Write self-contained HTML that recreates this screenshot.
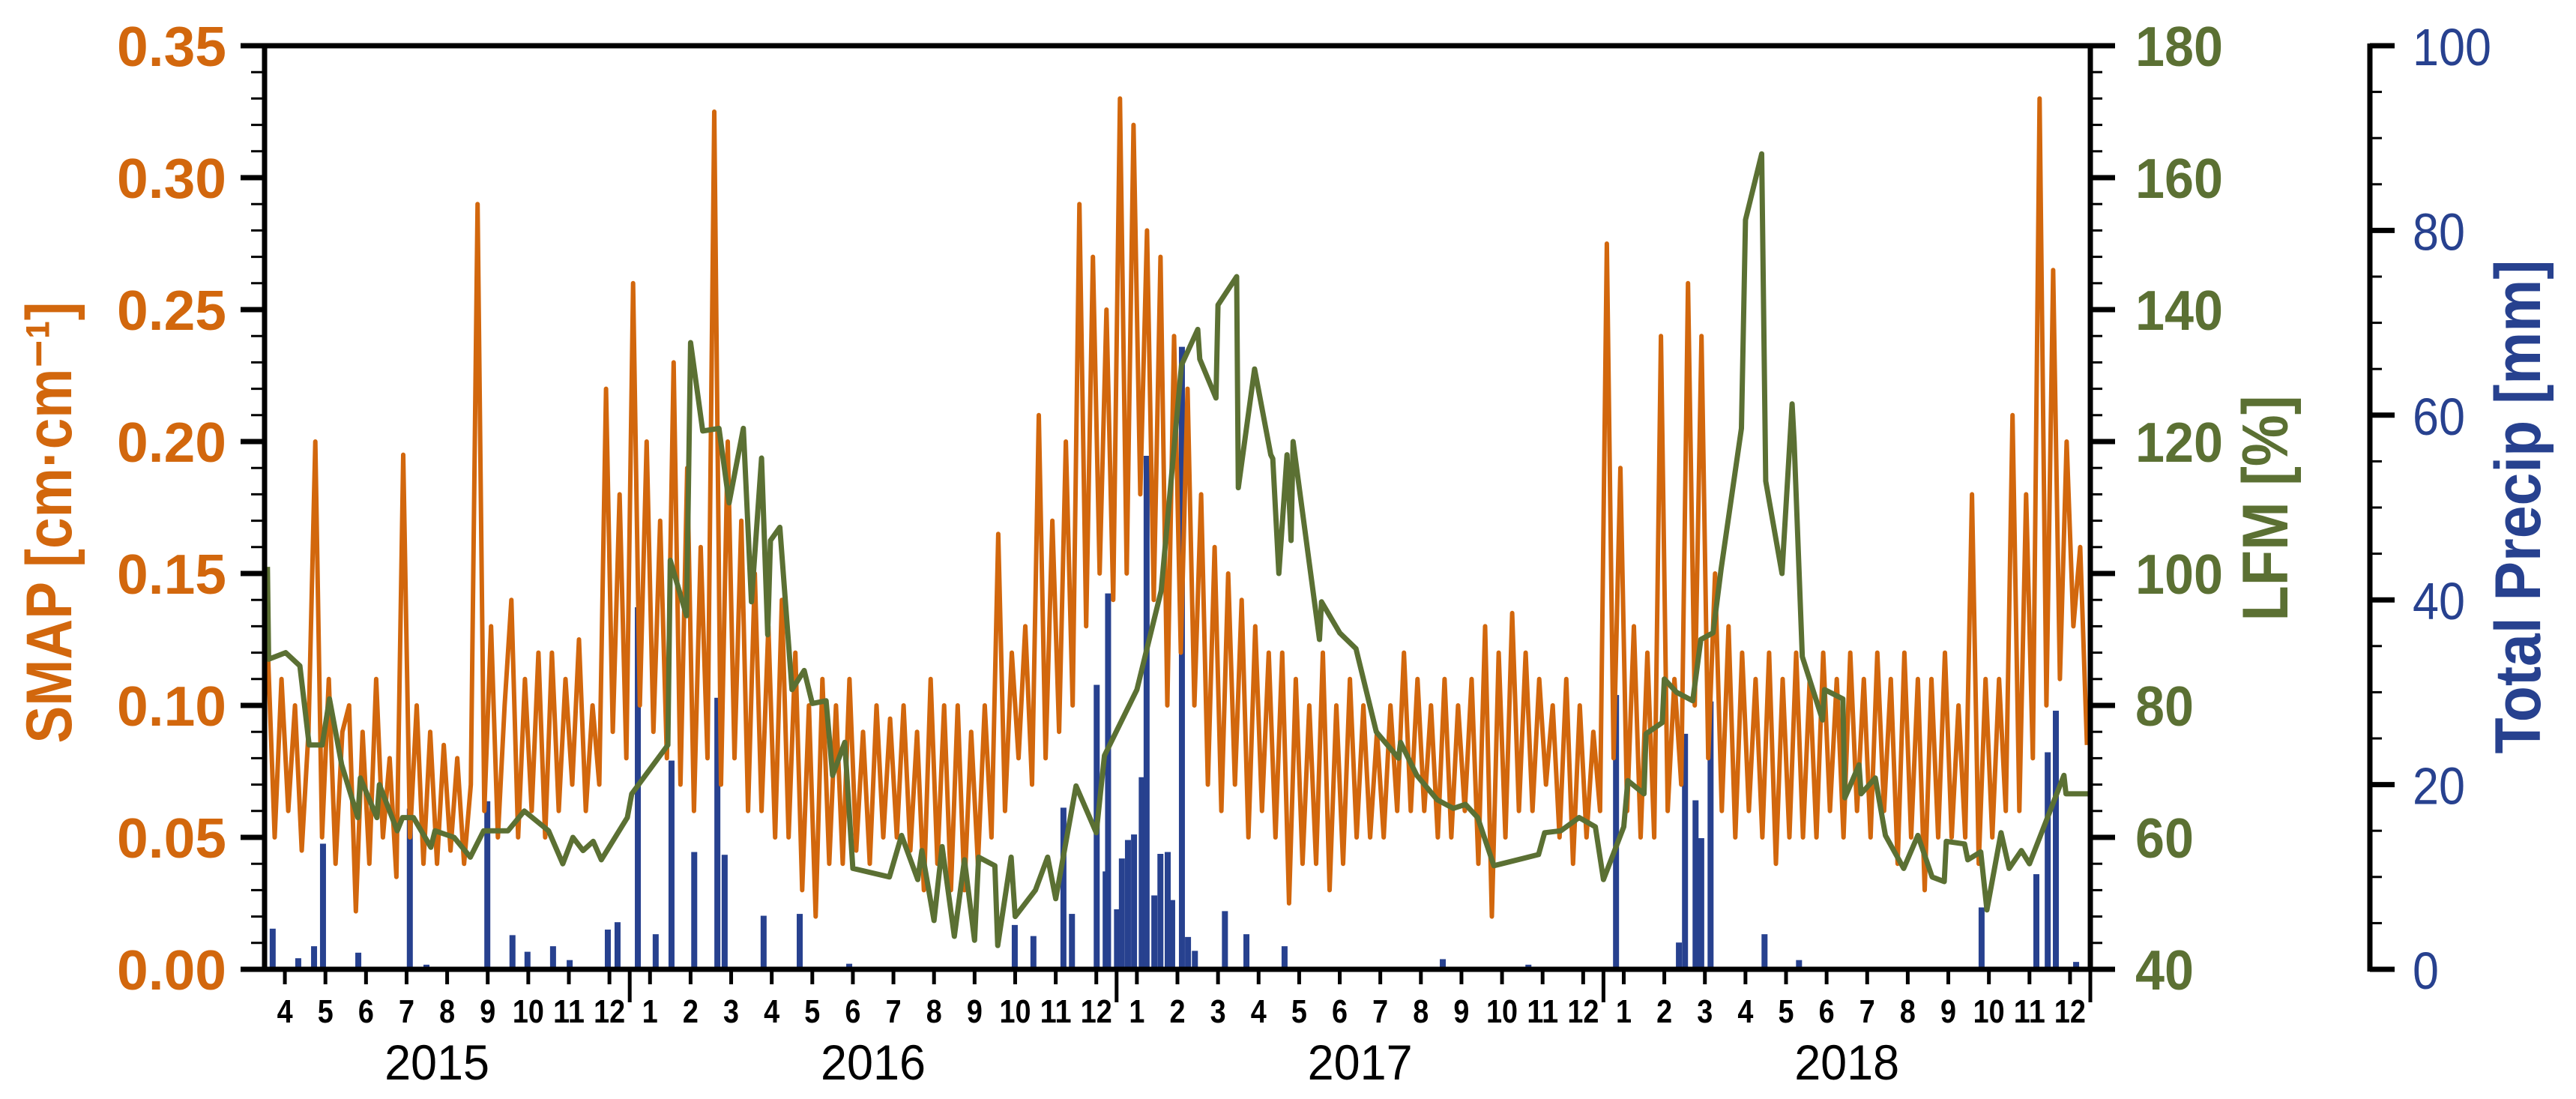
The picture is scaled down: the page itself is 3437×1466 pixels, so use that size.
<!DOCTYPE html>
<html><head><meta charset="utf-8"><style>
html,body{margin:0;padding:0;background:#fff;}
svg{display:block;font-family:"Liberation Sans",Arial,sans-serif;}
</style></head><body>
<svg id="chart" width="3437" height="1466" viewBox="0 0 3437 1466" xmlns="http://www.w3.org/2000/svg">
<g id="g-precip"></g>
<g id="g-smap"></g>
<g id="g-lfm"></g>
<g id="g-axes"></g>
<text transform="translate(95,697) rotate(-90)" text-anchor="middle" font-size="86" font-weight="bold" fill="#d2670d" textLength="589" lengthAdjust="spacingAndGlyphs">SMAP [cm·cm⁻¹]</text>
<text transform="translate(3052,678) rotate(-90)" text-anchor="middle" font-size="86" font-weight="bold" fill="#5b7033" textLength="301" lengthAdjust="spacingAndGlyphs">LFM [%]</text>
<text transform="translate(3389,676) rotate(-90)" text-anchor="middle" font-size="86" font-weight="bold" fill="#27418f" textLength="659" lengthAdjust="spacingAndGlyphs">Total Precip [mm]</text>
</svg>
<script>
// ---- data ----
const smapValues = [
0.12,0.05,0.11,0.06,0.10,0.045, 0.09,0.20,0.05,0.11,0.04,0.09, 0.10,0.022,0.09,0.04,0.11,0.05,
0.08,0.035,0.195,0.05,0.10,0.04, 0.09,0.04,0.085,0.045,0.08,0.04, 0.07,0.29,0.06,0.13,0.05,0.10,
0.14,0.05,0.11,0.06,0.12,0.05, 0.12,0.06,0.11,0.07,0.125,0.06, 0.10,0.07,0.22,0.09,0.18,0.08,
0.26,0.10,0.20,0.09,0.17,0.08, 0.23,0.07,0.19,0.06,0.16,0.08, 0.325,0.07,0.20,0.08,0.17,0.06,
0.15,0.06,0.13,0.05,0.14,0.05, 0.12,0.03,0.10,0.02,0.11,0.04, 0.10,0.04,0.11,0.045,0.09,0.04,
0.10,0.05,0.095,0.05,0.10,0.045, 0.09,0.03,0.11,0.04,0.10,0.03, 0.10,0.03,0.09,0.04,0.10,0.05,
0.165,0.06,0.12,0.08,0.13,0.07, 0.21,0.08,0.17,0.09,0.20,0.10, 0.29,0.13,0.27,0.15,0.25,0.14,
0.33,0.15,0.32,0.18,0.28,0.14, 0.27,0.10,0.24,0.12,0.22,0.10, 0.18,0.07,0.16,0.06,0.15,0.07,
0.14,0.05,0.13,0.06,0.12,0.05, 0.12,0.025,0.11,0.04,0.10,0.04, 0.12,0.03,0.10,0.04,0.11,0.05,
0.10,0.05,0.09,0.05,0.10,0.06, 0.12,0.06,0.11,0.06,0.10,0.05, 0.11,0.05,0.10,0.06,0.11,0.04,
0.13,0.02,0.12,0.05,0.135,0.06, 0.12,0.06,0.11,0.07,0.10,0.05, 0.11,0.04,0.10,0.05,0.09,0.06,
0.275,0.08,0.19,0.06,0.13,0.05, 0.12,0.05,0.24,0.06,0.11,0.07, 0.26,0.10,0.24,0.08,0.15,0.06,
0.13,0.05,0.12,0.06,0.11,0.05, 0.12,0.04,0.11,0.05,0.12,0.05, 0.11,0.05,0.12,0.06,0.11,0.05,
0.12,0.06,0.11,0.05,0.12,0.06, 0.11,0.04,0.12,0.05,0.11,0.03, 0.11,0.05,0.12,0.05,0.10,0.05,
0.18,0.04,0.11,0.05,0.11,0.06, 0.21,0.06,0.18,0.08,0.33,0.10, 0.265,0.11,0.20,0.13,0.16,0.085];
const smapStepsPerMonth = 6;
const lfmMonths = [0.07,0.1,0.52,0.87,1.1,1.42,1.6,1.9,2.3,2.36,2.77,2.83,3.27,3.4,3.67,4.1,4.2,4.67,5.07,5.4,6.0,6.4,7.0,7.35,7.6,7.85,8.1,8.3,8.94,9.05,9.94,10.0,10.4,10.5,10.8,11.2,11.45,11.8,12.0,12.25,12.4,12.47,12.7,13.0,13.3,13.5,13.84,14.0,14.3,14.5,15.4,15.7,16.1,16.2,16.5,16.7,17.0,17.25,17.5,17.6,18.0,18.07,18.4,18.5,19.0,19.3,19.5,20.0,20.5,20.7,21.5,22.1,22.6,23.0,23.05,23.45,23.5,23.96,24.0,24.4,24.8,24.85,25.0,25.2,25.3,25.35,26.0,26.05,26.5,26.9,27.4,27.95,28.0,28.4,28.9,29.3,29.6,29.9,30.3,31.4,31.55,31.95,32.4,32.8,33.0,33.5,33.6,34.0,34.05,34.45,34.5,34.8,35.2,35.4,35.7,35.9,36.4,36.5,36.9,37.0,37.4,37.65,37.7,37.9,38.4,38.45,38.9,38.95,39.3,39.35,39.7,39.95,40.4,40.75,41.1,41.4,41.45,41.9,41.98,42.3,42.45,42.8,43.0,43.3,43.5,44.35,44.4,45.0];
const lfmValues = [101,87,88,86,74,74,81,71,63,69,63,68,61,63,63,58.5,61,60,57,61,61,64,61,56,60,58,59.4,56.6,63,66.6,74,102,93.6,135,121.6,122,110.7,122,95.7,117.5,90.7,105,107,82.4,85.3,80.3,80.7,69.4,74.4,55.3,54,60.3,53.6,58,47.4,58.6,45,56.6,44.4,57,55.7,43.6,57,48,52,57,50.7,67.8,60.7,72.4,82.4,97.4,131.6,137,132.5,126.6,140.7,145,113,131,118,117.4,100,118,105,120,90,95.7,91,88.6,76,72,74.4,69.4,65.7,64.4,65,63,55.7,57.4,60.7,61,63,61.6,53.6,61.6,68.6,66.6,75.7,77.4,84,82,80.7,90,91,100.7,122,153.6,163.6,114,100,125.7,120,87.4,77.8,82.4,81,66,71,66.6,69,60.3,55.3,60.3,54,53.3,59.4,59,56.6,57.8,49,60.7,55.3,58,56,69.4,66.6,66.6];
const precipMonths = [0.20,0.83,1.22,1.44,2.31,3.58,3.99,5.49,6.11,6.48,7.11,7.52,8.46,8.70,9.20,9.64,10.03,10.59,11.16,11.34,12.30,13.19,14.41,18.49,18.95,19.69,19.90,20.51,20.73,20.79,21.01,21.13,21.28,21.43,21.62,21.74,21.93,22.08,22.26,22.37,22.61,22.76,22.93,23.67,24.20,25.14,29.04,31.15,33.31,34.86,35.01,35.27,35.41,35.64,36.97,37.82,42.32,43.67,43.95,44.15,44.65];
const precipValues = [4.4,1.2,2.5,13.6,1.8,17.4,0.5,18.2,3.7,1.9,2.5,1.0,4.3,5.1,39.2,3.8,22.6,12.7,29.4,12.4,5.8,6.0,0.6,4.8,3.6,17.5,6,30.8,10.6,40.7,6.5,12,14,14.6,20.8,55.6,8,12.5,12.7,7.5,67.4,3.5,2,6.3,3.8,2.5,1.1,0.5,29.7,2.9,25.5,18.3,14.2,29,3.8,1,6.7,10.3,23.5,28,0.8];
const smapTicks = ["0.00","0.05","0.10","0.15","0.20","0.25","0.30","0.35"];
const lfmTicks = ["40","60","80","100","120","140","160","180"];
const precipTicks = ["0","20","40","60","80","100"];
const monthLabels = ["4","5","6","7","8","9","10","11","12","1","2","3","4","5","6","7","8","9","10","11","12","1","2","3","4","5","6","7","8","9","10","11","12","1","2","3","4","5","6","7","8","9","10","11","12"];
const yearLabels = ["2015","2016","2017","2018"];
const yearCenters = [4.25,15,27,39];
const yearBoundaries = [9,21,33,45];

// ---- scales ----
const L=353,R=2789,T=61,B=1293,NM=45;
const X=m=>L+(R-L)*m/NM;
const ySmap=v=>B-(B-T)*v/0.35;
const yLfm=v=>B-(B-T)*(v-40)/140;
const yPre=v=>B-(B-T)*v/100;
const NS="http://www.w3.org/2000/svg";
function mk(tag,parent,attrs){const e=document.createElementNS(NS,tag);for(const k in attrs)e.setAttribute(k,attrs[k]);parent.appendChild(e);return e;}
const OR="#d2670d",OL="#5b7033",BL="#27418f";

// precip
const gP=document.getElementById('g-precip');
precipValues.forEach((v,i)=>{const x=X(precipMonths[i]);
 const r=mk('rect',gP,{x:x-4,y:yPre(v),width:8,height:B-yPre(v),fill:BL});
 
 });
// smap
const gS=document.getElementById('g-smap');
let d='';smapValues.forEach((v,i)=>{const x=X((i+0.5)/smapStepsPerMonth);d+=(i?'L':'M')+x.toFixed(1)+' '+ySmap(v).toFixed(1);});
const ps=mk('path',gS,{d:d,fill:'none',stroke:OR,'stroke-width':6,'stroke-linejoin':'round'});


// lfm
const gL=document.getElementById('g-lfm');
let d2='';lfmValues.forEach((v,i)=>{d2+=(i?'L':'M')+X(lfmMonths[i]).toFixed(1)+' '+yLfm(v).toFixed(1);});
const pl=mk('path',gL,{d:d2,fill:'none',stroke:OL,'stroke-width':7,'stroke-linejoin':'round'});



// axes
const gA=document.getElementById('g-axes');
const K='#000';
mk('line',gA,{x1:L,y1:T-3,x2:L,y2:B+3,stroke:K,'stroke-width':7});
mk('line',gA,{x1:R,y1:T-3,x2:R,y2:B+3,stroke:K,'stroke-width':7});
mk('line',gA,{x1:L-32,y1:T,x2:R+33,y2:T,stroke:K,'stroke-width':7});
mk('line',gA,{x1:L-32,y1:B,x2:R+33,y2:B,stroke:K,'stroke-width':7});
for(let j=0;j<=35;j++){const y=B-(B-T)*j/35;const maj=j%5==0;
 mk('line',gA,{x1:L-(maj?32:18),y1:y,x2:L,y2:y,stroke:K,'stroke-width':maj?7:3});
 mk('line',gA,{x1:R,y1:y,x2:R+(maj?33:16),y2:y,stroke:K,'stroke-width':maj?7:3});}
smapTicks.forEach((t,i)=>{const tx=mk('text',gA,{x:302,y:ySmap(i*0.05)+27,'text-anchor':'end','font-size':75,'font-weight':'bold',fill:OR});tx.textContent=t;
 
 });
lfmTicks.forEach((t,i)=>{const tx=mk('text',gA,{x:2849,y:yLfm(40+i*20)+27,'font-size':75,'font-weight':'bold',fill:OL,textLength:t.length*39,lengthAdjust:'spacingAndGlyphs'});tx.textContent=t;
 
 });
// precip axis
const PX=3162;
mk('line',gA,{x1:PX,y1:T-3,x2:PX,y2:B+3,stroke:K,'stroke-width':7});
for(let j=0;j<=20;j++){const y=B-(B-T)*j/20;const maj=j%4==0;
 mk('line',gA,{x1:PX,y1:y,x2:PX+(maj?33:16),y2:y,stroke:K,'stroke-width':maj?7:3});}
precipTicks.forEach((t,i)=>{const tx=mk('text',gA,{x:3219,y:yPre(i*20)+26,'font-size':70,fill:BL,textLength:t.length*35,lengthAdjust:'spacingAndGlyphs'});tx.textContent=t;
 
 });
// month ticks & labels
monthLabels.forEach((t,i)=>{const x=X(i+0.5);
 mk('line',gA,{x1:x,y1:B,x2:x,y2:B+20,stroke:K,'stroke-width':5});
 const tx=mk('text',gA,{x:x,y:1364,'text-anchor':'middle','font-size':44,'font-weight':'bold',fill:K,textLength:t.length*21,lengthAdjust:'spacingAndGlyphs'});tx.textContent=t;
 
 });
yearBoundaries.forEach(m=>{const x=X(m);mk('line',gA,{x1:x,y1:B,x2:x,y2:B+44,stroke:K,'stroke-width':5});});
yearLabels.forEach((t,i)=>{const tx=mk('text',gA,{x:X(yearCenters[i]),y:1440,'text-anchor':'middle','font-size':66,fill:K,textLength:140,lengthAdjust:'spacingAndGlyphs'});tx.textContent=t;
 
 });
</script>
</body></html>
